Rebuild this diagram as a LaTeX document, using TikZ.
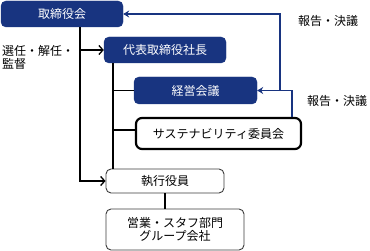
\documentclass[tikz,border=0pt]{standalone}
\usepackage{fontspec}
\newfontfamily\jp{Noto Sans CJK JP}
\usetikzlibrary{arrows.meta,calc}
\definecolor{navy}{RGB}{24,52,128}
\definecolor{grayline}{RGB}{60,60,60}
\begin{document}
\begin{tikzpicture}[x=1pt,y=-1pt,
  every node/.style={font=\jp\fontsize{12}{15}\selectfont, inner sep=0pt},
  navbox/.style={fill=navy, draw=navy, rounded corners=5pt, text=white},
  thinbox/.style={draw=grayline, line width=0.9pt, rounded corners=5pt, fill=white},
  thickbox/.style={draw=black, line width=2.2pt, rounded corners=6pt, fill=white},
  blk/.style={draw=black, line width=1.6pt},
  nv/.style={draw=navy, line width=1.9pt},
  openarr/.style={-{Straight Barb[length=4pt,width=9pt,line width=1.3pt]}},
  navarr/.style={-{Stealth[length=6pt,width=7pt]}}
]
\useasboundingbox (0,0) rectangle (370,251);
\node[navbox, minimum width=122pt, minimum height=26pt] (board) at (62,14) {取締役会};
\node[navbox, minimum width=122pt, minimum height=26pt] (pres) at (165,50) {代表取締役社長};
\node[navbox, minimum width=123pt, minimum height=27pt] (mgmt) at (195.5,90.5) {経営会議};
\node[thickbox, minimum width=165pt, minimum height=31pt] (sust) at (218.5,133.5) {サステナビリティ委員会};
\node[thinbox, minimum width=118pt, minimum height=24pt] (exec) at (165,181) {執行役員};
\node[thinbox, minimum width=138pt, minimum height=41pt, align=center] (dept) at (175,229.5) {営業・スタフ部門\\[-2pt]グループ会社};

\coordinate (vx1) at (80,0);
\coordinate (vx2) at (113,0);
\coordinate (vr1) at (292,0);
\coordinate (vr2) at (280,0);
\coordinate (sy) at (0,130);

\draw[blk, openarr] (board.south -| vx1) |- (exec.west);
\draw[blk, openarr] (vx1 |- pres.west) -- (pres.west);
\draw[blk] (pres.south -| vx2) -- (exec.north -| vx2);
\draw[blk] (vx2 |- mgmt.west) -- (mgmt.west);
\draw[blk] (vx2 |- sy) -- (sust.west |- sy);
\draw[blk] (exec.south) -- (exec.south |- dept.north);

\draw[nv, navarr] (sust.north -| vr1) |- (mgmt.east);
\draw[nv, navarr] (vr2 |- mgmt.east) |- (board.east);

\node (lab1) at (328,21) {報告・決議};
\node (lab2) at (337,101) {報告・決議};
\node[anchor=north west, align=left] (lab3) at (2,45) {選任・解任・\\[-2pt]監督};
\end{tikzpicture}
\end{document}
